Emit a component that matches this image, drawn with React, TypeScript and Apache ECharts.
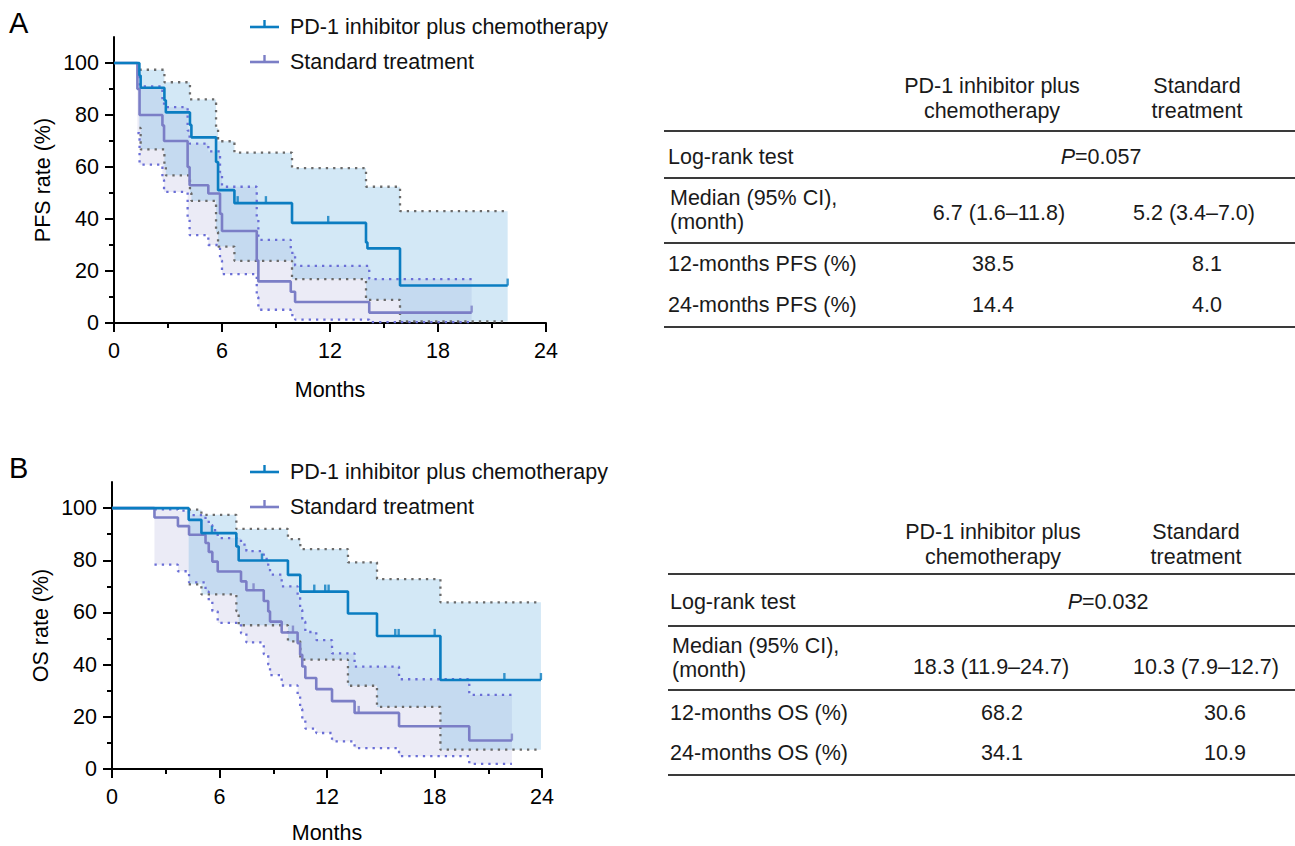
import React, { useEffect, useRef } from "react";
import * as echarts from "echarts";

// ---------------- DATA ----------------
const yTickValues = [0, 20, 40, 60, 80, 100];
const yMinorTickValues = [10, 30, 50, 70, 90];
const xInterval = 6;

// Panel A: PFS
const pfsPdTimes = [0, 1.41, 1.48, 2.8, 2.88, 4.22, 4.3, 5.67, 5.78, 6.69, 9.89, 14.0, 14.08, 15.89, 21.87];
const pfsPdSurv = [100, 95.2, 90.5, 85.7, 81.0, 76.2, 71.4, 61.9, 51.1, 46.1, 38.5, 31.0, 28.7, 14.4, 14.4];
const pfsPdUpper = [100, 97.4, 97.4, 92.6, 92.6, 86.0, 86.0, 75.0, 69.9, 65.5, 59.6, 52.4, 52.4, 43.0, 43.0];
const pfsPdLower = [100, 75.0, 66.8, 60.0, 56.8, 50.0, 47.0, 35.0, 29.4, 23.9, 16.9, 8.9, 8.9, 0.6, 0.6];
const pfsPdCensorTimes = [6.87, 8.44, 11.9, 21.87];
const pfsPdCensorSurv = [46.1, 46.1, 38.5, 14.4];

const pfsStdTimes = [0, 1.3, 1.42, 2.69, 2.78, 4.09, 4.2, 5.24, 5.89, 6.0, 7.93, 8.02, 9.82, 10.06, 14.18, 19.87];
const pfsStdSurv = [100, 90, 80, 76, 70, 60, 53.0, 49.8, 42, 35.4, 24, 16.0, 12.0, 8.1, 4.0, 4.0];
const pfsStdUpper = [100, 97, 91, 86, 83, 74, 69, 66, 58, 52.4, 40, 32, 27, 22, 16.9, 16.9];
const pfsStdLower = [100, 73, 60.9, 55, 50.4, 40, 33.8, 30.0, 24, 18.8, 10, 5.1, 3, 1.3, 0.3, 0.3];
const pfsStdCensorTimes = [19.87];
const pfsStdCensorSurv = [4.0];

// Panel B: OS
const osPdTimes = [0, 4.28, 4.99, 6.94, 7.07, 9.82, 10.51, 13.17, 14.79, 18.33, 23.94];
const osPdSurv = [100, 95.5, 90.4, 85.3, 79.9, 74.4, 68.0, 59.6, 51.0, 34.1, 34.1];
const osPdUpper = [100, 99.4, 97.4, 92.0, 92.0, 88.1, 84.3, 79.2, 72.8, 63.9, 63.9];
const osPdLower = [100, 70.8, 66.9, 60.5, 55.1, 48.9, 41.9, 31.9, 23.8, 7.4, 7.4];
const osPdCensorTimes = [5.58, 8.37, 11.29, 11.9, 12.09, 15.81, 16.0, 18.01, 21.9, 23.94];
const osPdCensorSurv = [90.4, 79.9, 68.0, 68.0, 68.0, 51.0, 51.0, 51.0, 34.1, 34.1];

const osStdTimes = [0, 2.37, 3.68, 4.3, 5.22, 5.4, 5.6, 5.9, 7.2, 7.5, 8.47, 8.72, 8.82, 9.47, 10.36, 10.5, 10.62, 10.79, 11.4, 12.28, 13.54, 16.02, 19.94, 22.32];
const osStdSurv = [100, 96.4, 93.1, 89.8, 86.6, 83.2, 79.5, 75.7, 71.9, 68.5, 64.4, 60.4, 56.5, 52.3, 48.2, 43.8, 39.3, 34.9, 30.6, 26.0, 21.5, 16.4, 10.9, 10.9];
const osStdUpper = [100, 99.5, 99.0, 97.3, 95.5, 93.5, 91.5, 88.5, 86, 83.5, 80.5, 77.5, 74.5, 70, 66, 61, 56.5, 52.5, 49.4, 44.3, 39.2, 34.4, 28.4, 28.4];
const osStdLower = [100, 78.3, 75.8, 71.5, 68, 64.5, 60.5, 56, 52, 48.5, 44, 40, 36, 32, 28, 23, 19, 15.5, 13.8, 10.6, 8.0, 4.9, 2.0, 2.0];
const osStdCensorTimes = [7.9, 10.1, 13.77, 22.32];
const osStdCensorSurv = [68.5, 52.3, 21.5, 10.9];

// Legend & table text
const groupNames = ["PD-1 inhibitor plus chemotherapy", "Standard treatment"];
const tableHeaders = ["PD-1 inhibitor plus\nchemotherapy", "Standard\ntreatment"];
const pfsRowLabels = ["Log-rank test", "Median (95% CI),\n(month)", "12-months PFS (%)", "24-months PFS (%)"];
const osRowLabels = ["Log-rank test", "Median (95% CI),\n(month)", "12-months OS (%)", "24-months OS (%)"];
const pfsPValue = "0.057";
const pfsMedians = ["6.7 (1.6–11.8)", "5.2 (3.4–7.0)"];
const pfs12 = ["38.5", "8.1"];
const pfs24 = ["14.4", "4.0"];
const osPValue = "0.032";
const osMedians = ["18.3 (11.9–24.7)", "10.3 (7.9–12.7)"];
const os12 = ["68.2", "30.6"];
const os24 = ["34.1", "10.9"];

// ---------------- STYLE ----------------
const FONT = "'Liberation Sans', Arial, Helvetica, sans-serif";
const FS = 21.5;
const BLUE = "#0b7dc1";
const PURPLE = "#7b7ec6";
const GREY_DOT = "#6a6a6a";
const PURPLE_DOT = "#6a6ed6";
const BLUE_FILL = "rgba(110,180,225,0.30)";
const LAV_FILL = "rgba(175,175,220,0.25)";

function pairs(ts: number[], vs: number[], from = 0) {
  const out: number[][] = [];
  for (let i = from; i < ts.length; i++) out.push([ts[i], vs[i]]);
  return out;
}

function band(ts: number[], up: number[], lo: number[], fill: string, xi: number, yi: number) {
  const n = ts.length;
  return {
    type: "custom",
    xAxisIndex: xi,
    yAxisIndex: yi,
    silent: true,
    z: 1,
    data: [[0, 0]],
    renderItem: (_p: any, api: any) => {
      const pts: number[][] = [];
      for (let i = 1; i < n; i++) {
        pts.push(api.coord([ts[i], up[i]]));
        if (i < n - 1) pts.push(api.coord([ts[i + 1], up[i]]));
      }
      for (let i = n - 1; i >= 1; i--) {
        if (i < n - 1) pts.push(api.coord([ts[i + 1], lo[i]]));
        pts.push(api.coord([ts[i], lo[i]]));
      }
      return { type: "polygon", shape: { points: pts }, style: { fill } };
    },
  };
}

function ciLine(ts: number[], vs: number[], color: string, xi: number, yi: number) {
  return {
    type: "line",
    xAxisIndex: xi,
    yAxisIndex: yi,
    step: "end",
    symbol: "none",
    silent: true,
    z: 2,
    data: pairs(ts, vs, 1),
    lineStyle: { color, width: 2.3, type: [2.3, 5], cap: "butt" },
  };
}

function km(name: string, ts: number[], vs: number[], color: string, xi: number, yi: number) {
  return {
    type: "line",
    name,
    xAxisIndex: xi,
    yAxisIndex: yi,
    step: "end",
    symbol: "none",
    z: 3,
    data: pairs(ts, vs),
    lineStyle: { color, width: 2.6 },
    itemStyle: { color },
  };
}

function censor(ts: number[], vs: number[], color: string, xi: number, yi: number) {
  return {
    type: "scatter",
    xAxisIndex: xi,
    yAxisIndex: yi,
    symbol: "rect",
    symbolSize: [2.4, 7],
    symbolOffset: [0, "-50%"],
    z: 4,
    silent: true,
    data: pairs(ts, vs),
    itemStyle: { color },
  };
}

function mkX(gi: number, nameGap: number) {
  return {
    type: "value",
    gridIndex: gi,
    min: 0,
    max: 24,
    interval: xInterval,
    name: "Months",
    nameLocation: "middle",
    nameGap,
    nameTextStyle: { fontSize: FS, color: "#000", fontFamily: FONT },
    axisLine: { show: true, lineStyle: { color: "#000", width: 2 } },
    axisTick: { show: true, length: 9, lineStyle: { color: "#000", width: 2 } },
    minorTick: { show: true, splitNumber: 2, length: 5, lineStyle: { color: "#000", width: 2 } },
    splitLine: { show: false },
    minorSplitLine: { show: false },
    axisLabel: { fontSize: FS, color: "#000", fontFamily: FONT, margin: 17 },
  };
}

function mkY(gi: number, name: string) {
  return {
    type: "value",
    gridIndex: gi,
    position: "left",
    min: 0,
    max: 110,
    name,
    nameLocation: "middle",
    nameGap: 60,
    nameRotate: 90,
    nameTextStyle: { fontSize: FS, color: "#000", fontFamily: FONT },
    axisLine: { show: true, lineStyle: { color: "#000", width: 2 } },
    axisTick: { show: true, length: 9, customValues: yTickValues, lineStyle: { color: "#000", width: 2 } },
    splitLine: { show: false },
    axisLabel: { fontSize: FS, color: "#000", fontFamily: FONT, margin: 15, customValues: yTickValues },
  };
}

function mkYMinor(gi: number) {
  return {
    type: "value",
    gridIndex: gi,
    position: "left",
    offset: 0,
    min: 0,
    max: 110,
    axisLine: { show: false },
    axisTick: { show: true, length: 5, customValues: yMinorTickValues, lineStyle: { color: "#000", width: 2 } },
    splitLine: { show: false },
    axisLabel: { show: false },
  };
}

function legendGraphic(y0: number, y1: number) {
  const els: any[] = [];
  const rows = [
    { y: y0, color: BLUE, text: groupNames[0] },
    { y: y1, color: PURPLE, text: groupNames[1] },
  ];
  rows.forEach((r) => {
    els.push({ type: "line", shape: { x1: 250, y1: r.y, x2: 279, y2: r.y }, style: { stroke: r.color, lineWidth: 2.6 } });
    els.push({ type: "line", shape: { x1: 264.5, y1: r.y, x2: 264.5, y2: r.y - 7 }, style: { stroke: r.color, lineWidth: 2.4 } });
    els.push({
      type: "text",
      style: { text: r.text, x: 290, y: r.y, fill: "#111", fontSize: FS, fontFamily: FONT, align: "left", verticalAlign: "middle" },
    });
  });
  return els;
}

function txt(text: string, x: number, y: number, align: string, extra: any = {}) {
  return {
    type: "text",
    style: { text, x, y, fill: "#1a1a1a", fontSize: FS, fontFamily: FONT, align, verticalAlign: "middle", lineHeight: 25, ...extra },
  };
}

function hline(x1: number, y: number) {
  return { type: "line", shape: { x1, y1: y, x2: 1295, y2: y }, style: { stroke: "#3a3a3a", lineWidth: 1.8 } };
}

function tableGraphic(cfg: any) {
  const els: any[] = [];
  els.push(txt(tableHeaders[0], cfg.headX[0], cfg.headY, "center"));
  els.push(txt(tableHeaders[1], cfg.headX[1], cfg.headY, "center"));
  cfg.lines.forEach((y: number) => els.push(hline(cfg.lineX, y)));
  els.push(txt(cfg.labels[0], cfg.labelX, cfg.rowY[0], "left"));
  els.push(
    txt("{i|P}=" + cfg.p, cfg.pX, cfg.rowY[0], "center", {
      rich: { i: { fontStyle: "italic", fontSize: FS, fontFamily: FONT, fill: "#1a1a1a" } },
    })
  );
  els.push(txt(cfg.labels[1], cfg.labelX + 2, cfg.rowY[1], "left", { lineHeight: 24 }));
  els.push(txt(cfg.medians[0], cfg.medX[0], cfg.medY, "center"));
  els.push(txt(cfg.medians[1], cfg.medX[1], cfg.medY, "center"));
  els.push(txt(cfg.labels[2], cfg.labelX, cfg.rowY[2], "left"));
  els.push(txt(cfg.v12[0], cfg.valX[0], cfg.rowY[2], "center"));
  els.push(txt(cfg.v12[1], cfg.valX[1], cfg.rowY[2], "center"));
  els.push(txt(cfg.labels[3], cfg.labelX, cfg.rowY[3], "left"));
  els.push(txt(cfg.v24[0], cfg.valX[0], cfg.rowY[3], "center"));
  els.push(txt(cfg.v24[1], cfg.valX[1], cfg.rowY[3], "center"));
  return els;
}

export default function App() {
  const ref = useRef<HTMLDivElement>(null);
  useEffect(() => {
    if (!ref.current) return;
    const chart = echarts.init(ref.current, null, { renderer: "svg" });
    const option: any = {
      animation: false,
      backgroundColor: "#fff",
      textStyle: { fontFamily: FONT },
      grid: [
        { left: 114, top: 37, width: 432, height: 286 },
        { left: 112, top: 482, width: 430, height: 287 },
      ],
      xAxis: [mkX(0, 56), mkX(1, 53)],
      yAxis: [mkY(0, "PFS rate (%)"), mkYMinor(0), mkY(1, "OS rate (%)"), mkYMinor(1)],
      series: [
        band(pfsStdTimes, pfsStdUpper, pfsStdLower, LAV_FILL, 0, 0),
        band(pfsPdTimes, pfsPdUpper, pfsPdLower, BLUE_FILL, 0, 0),
        ciLine(pfsStdTimes, pfsStdUpper, PURPLE_DOT, 0, 0),
        ciLine(pfsStdTimes, pfsStdLower, PURPLE_DOT, 0, 0),
        ciLine(pfsPdTimes, pfsPdUpper, GREY_DOT, 0, 0),
        ciLine(pfsPdTimes, pfsPdLower, GREY_DOT, 0, 0),
        km(groupNames[1], pfsStdTimes, pfsStdSurv, PURPLE, 0, 0),
        km(groupNames[0], pfsPdTimes, pfsPdSurv, BLUE, 0, 0),
        censor(pfsStdCensorTimes, pfsStdCensorSurv, PURPLE, 0, 0),
        censor(pfsPdCensorTimes, pfsPdCensorSurv, BLUE, 0, 0),

        band(osStdTimes, osStdUpper, osStdLower, LAV_FILL, 1, 2),
        band(osPdTimes, osPdUpper, osPdLower, BLUE_FILL, 1, 2),
        ciLine(osStdTimes, osStdUpper, PURPLE_DOT, 1, 2),
        ciLine(osStdTimes, osStdLower, PURPLE_DOT, 1, 2),
        ciLine(osPdTimes, osPdUpper, GREY_DOT, 1, 2),
        ciLine(osPdTimes, osPdLower, GREY_DOT, 1, 2),
        km(groupNames[1], osStdTimes, osStdSurv, PURPLE, 1, 2),
        km(groupNames[0], osPdTimes, osPdSurv, BLUE, 1, 2),
        censor(osStdCensorTimes, osStdCensorSurv, PURPLE, 1, 2),
        censor(osPdCensorTimes, osPdCensorSurv, BLUE, 1, 2),
      ],
      graphic: [
        { type: "text", style: { text: "A", x: 9, y: 23, fill: "#000", fontSize: 29, fontFamily: FONT, verticalAlign: "middle" } },
        { type: "text", style: { text: "B", x: 9, y: 468, fill: "#000", fontSize: 29, fontFamily: FONT, verticalAlign: "middle" } },
        ...legendGraphic(27, 62),
        ...legendGraphic(472, 507),
        ...tableGraphic({
          headX: [992, 1197], headY: 98.5, lineX: 664, lines: [131, 178, 243, 327],
          labelX: 668, labels: pfsRowLabels, rowY: [157, 210, 264, 305], p: pfsPValue, pX: 1101,
          medians: pfsMedians, medX: [999, 1194], medY: 213, v12: pfs12, v24: pfs24, valX: [993, 1207],
        }),
        ...tableGraphic({
          headX: [993, 1196], headY: 544.5, lineX: 668, lines: [574, 626, 690, 775],
          labelX: 670, labels: osRowLabels, rowY: [602, 658, 713, 753], p: osPValue, pX: 1108,
          medians: osMedians, medX: [991, 1206], medY: 667, v12: os12, v24: os24, valX: [1002, 1225],
        }),
      ],
    };
    chart.setOption(option);
    return () => chart.dispose();
  }, []);
  return <div ref={ref} style={{ position: "fixed", left: 0, top: 0, width: 1295, height: 846, background: "#fff" }} />;
}
